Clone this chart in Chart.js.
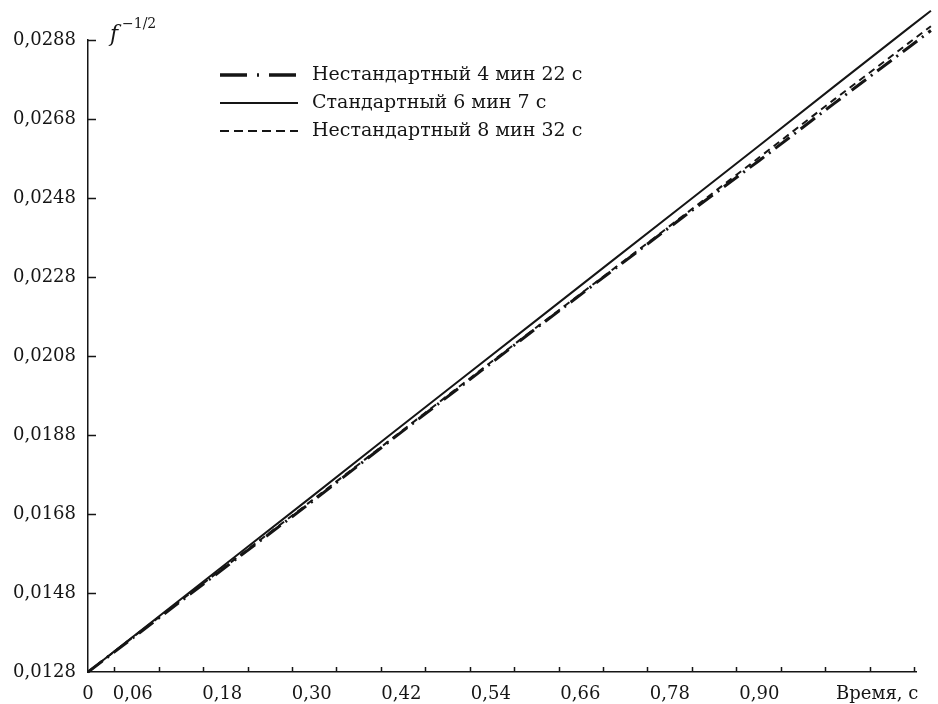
<!DOCTYPE html>
<html>
<head>
<meta charset="utf-8">
<script src="https://cdn.jsdelivr.net/npm/chart.js@4/dist/chart.umd.min.js"></script>
<style>
  html, body { margin: 0; padding: 0; background: #fff; }
</style>
</head>
<body>
<canvas id="chart" width="938" height="704"></canvas>
<script>
// time, s
const times = [0, 0.1, 0.2, 0.3, 0.4, 0.5, 0.6, 0.7, 0.8, 0.9, 1.0, 1.1, 1.13];
// f^-1/2 for the three runs
const nonStd4 = [0.01280, 0.01424, 0.01568, 0.01711, 0.01858, 0.02003, 0.02149, 0.02292, 0.02435, 0.02575, 0.02719, 0.02861, 0.02904];
const std6 = [0.01280, 0.01428, 0.01576, 0.01724, 0.01873, 0.02021, 0.02169, 0.02317, 0.02465, 0.02613, 0.02762, 0.02910, 0.02954];
const nonStd8 = [0.01280, 0.01426, 0.01570, 0.01714, 0.01860, 0.02006, 0.02151, 0.02294, 0.02438, 0.02583, 0.02729, 0.02872, 0.02915];
const seriesNames = ['Нестандартный 4 мин 22 с', 'Стандартный 6 мин 7 с', 'Нестандартный 8 мин 32 с'];

const yTicks = [0.0128, 0.0148, 0.0168, 0.0188, 0.0208, 0.0228, 0.0248, 0.0268, 0.0288];
const xLabelValues = [0, 0.06, 0.18, 0.30, 0.42, 0.54, 0.66, 0.78, 0.90, 1.058];
const xLabelTexts = ['0', '0,06', '0,18', '0,30', '0,42', '0,54', '0,66', '0,78', '0,90', 'Время, с'];
const xTickMarks = [0.035, 0.095, 0.154, 0.214, 0.273, 0.333, 0.393, 0.452, 0.512, 0.571, 0.631, 0.690, 0.750, 0.810, 0.869, 0.929, 0.988, 1.048, 1.107];

const FONT = 'DejaVu Serif';
const INK = '#151515';

const pts = arr => times.map((t, i) => ({ x: t, y: arr[i] }));

// inward tick marks, axis title, legend
const decor = {
    id: 'decor',
    afterDraw(chart) {
        const { ctx, scales: { x, y } } = chart;
        const x0 = x.getPixelForValue(0);
        const yb = y.getPixelForValue(yTicks[0]);
        ctx.save();
        ctx.strokeStyle = INK;
        ctx.lineWidth = 1.5;
        ctx.beginPath();
        xTickMarks.forEach(v => {
            const px = Math.round(x.getPixelForValue(v)) + 0.5;
            ctx.moveTo(px, yb);
            ctx.lineTo(px, yb - 5);
        });
        yTicks.slice(1).forEach(v => {
            const py = Math.round(y.getPixelForValue(v)) + 0.5;
            ctx.moveTo(x0, py);
            ctx.lineTo(x0 + 8, py);
        });
        ctx.stroke();

        // y axis title f^{-1/2}
        ctx.fillStyle = INK;
        ctx.textBaseline = 'alphabetic';
        ctx.font = 'italic 22px ' + FONT;
        ctx.fillText('f', 110, 41);
        ctx.font = '14px ' + FONT;
        ctx.fillText('\u22121/2', 122, 28);

        // legend
        const rows = [75, 103, 131];
        chart.data.datasets.forEach((ds, i) => {
            ctx.save();
            ctx.strokeStyle = ds.borderColor;
            ctx.lineWidth = ds.legendWidth;
            ctx.setLineDash(ds.legendDash || []);
            ctx.beginPath();
            ctx.moveTo(220, rows[i]);
            ctx.lineTo(298, rows[i]);
            ctx.stroke();
            ctx.restore();
            ctx.font = '19px ' + FONT;
            ctx.textBaseline = 'middle';
            ctx.fillText(ds.label, 312, rows[i]);
        });
        ctx.restore();
    }
};

new Chart(document.getElementById('chart'), {
    type: 'line',
    data: {
        datasets: [
            {
                label: seriesNames[0],
                data: pts(nonStd4),
                borderColor: INK,
                borderWidth: 3,
                borderDash: [18, 6, 2, 6],
                legendDash: [27, 10, 2, 10],
                legendWidth: 3.5,
            },
            {
                label: seriesNames[1],
                data: pts(std6),
                borderColor: INK,
                borderWidth: 2,
                legendDash: [],
                legendWidth: 2,
            },
            {
                label: seriesNames[2],
                data: pts(nonStd8),
                borderColor: INK,
                borderWidth: 2,
                borderDash: [7, 5],
                legendDash: [9, 5],
                legendWidth: 2,
            }
        ]
    },
    options: {
        responsive: false,
        devicePixelRatio: 1,
        animation: false,
        layout: { padding: { top: 40, right: 22, left: 0, bottom: 0 } },
        elements: {
            point: { radius: 0 },
            line: { tension: 0, fill: false }
        },
        datasets: { line: { clip: false } },
        plugins: {
            legend: { display: false },
            tooltip: { enabled: false }
        },
        scales: {
            x: {
                type: 'linear',
                min: 0,
                max: 1.11,
                afterBuildTicks: s => { s.ticks = xLabelValues.map(v => ({ value: v })); },
                afterFit: s => { s.height = 32; },
                grid: { display: false, drawTicks: false },
                border: { display: true, color: INK, width: 1.5 },
                ticks: {
                    autoSkip: false,
                    maxRotation: 0,
                    padding: 12,
                    color: INK,
                    font: { family: FONT, size: 18 },
                    callback: (v, i) => xLabelTexts[i]
                }
            },
            y: {
                min: 0.0128,
                max: 0.0288,
                afterBuildTicks: s => { s.ticks = yTicks.map(v => ({ value: v })); },
                afterFit: s => { s.width = 88; },
                grid: { display: false, drawTicks: false },
                border: { display: true, color: INK, width: 1.5 },
                ticks: {
                    padding: 12,
                    color: INK,
                    font: { family: FONT, size: 18 },
                    callback: v => v.toFixed(4).replace('.', ',')
                }
            }
        }
    },
    plugins: [decor]
});
</script>
</body>
</html>
